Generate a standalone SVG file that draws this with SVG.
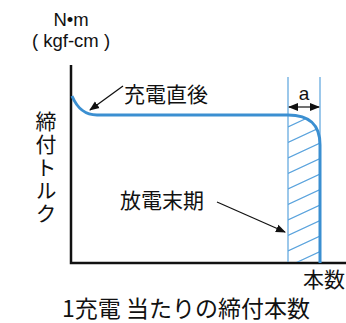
<svg xmlns="http://www.w3.org/2000/svg" width="346" height="323" viewBox="0 0 346 323">
<defs>
<style>
.t{font-family:"Liberation Sans","Noto Sans CJK JP",sans-serif;fill:#111;}
.j{font-family:"Noto Sans CJK JP","Liberation Sans",sans-serif;fill:#111;}
.ax{stroke:#111;stroke-width:2.5;fill:none;}
.cv{stroke:#3b8fd1;stroke-width:3;fill:none;}
.bl{stroke:#5aa3dd;stroke-width:1.2;fill:none;}
.ld{stroke:#111;stroke-width:1.2;fill:none;}
</style>
<marker id="ah" viewBox="0 0 10 10" refX="9" refY="5" markerWidth="10" markerHeight="10" markerUnits="userSpaceOnUse" orient="auto-start-reverse">
<path d="M0,1 L10,5 L0,9 Z" fill="#111"/>
</marker>
<clipPath id="hc">
<path d="M288,115 C310,115 320,125 320,145 L320,262 L288,262 Z"/>
</clipPath>
</defs>
<g id="axes">
<path class="ax" d="M71,65 L71,263 L346,263"/>
</g>
<g id="units">
<text class="t" x="71" y="26" font-size="18.5" text-anchor="middle">N•m</text>
<text class="t" x="71" y="47" font-size="18.5" text-anchor="middle">( kgf-cm )</text>
</g>
<g id="ylabel">
<text class="j" x="46" y="111" font-size="21" writing-mode="vertical-rl" letter-spacing="2">締付トルク</text>
</g>
<g id="hatch">
<line class="bl" x1="288" y1="77" x2="288" y2="262"/>
<line class="bl" x1="320" y1="77" x2="320" y2="262"/>
<g clip-path="url(#hc)">
<path class="bl" d="M288,127 l32,-15 M288,142.5 l32,-15 M288,158 l32,-15 M288,173.5 l32,-15 M288,189 l32,-15 M288,204.5 l32,-15 M288,220 l32,-15 M288,235.5 l32,-15 M288,251 l32,-15 M288,266.5 l32,-15 M288,282 l32,-15"/>
</g>
</g>
<g id="curve">
<path class="cv" d="M72,96 C78,110 86,115 97,115 L288,115 C310,115 320,125 320,145 L320,263"/>
</g>
<g id="a-dim">
<line class="ld" x1="289" y1="107" x2="319" y2="107" marker-start="url(#ah)" marker-end="url(#ah)"/>
<text class="t" x="304" y="100" font-size="19" text-anchor="middle">a</text>
</g>
<g id="label-start">
<text class="j" x="124" y="102" font-size="21">充電直後</text>
</g>
<g id="label-end">
<text class="j" x="120" y="208" font-size="21">放電末期</text>
</g>
<g id="xlabel">
<text class="j" x="303" y="287" font-size="21">本数</text>
<text class="j" x="62" y="317" font-size="23">1充電 当たりの締付本数</text>
</g>
<g id="connectors">
<line class="ld" x1="123" y1="86" x2="90" y2="110" marker-end="url(#ah)"/>
<line class="ld" x1="217" y1="202" x2="285" y2="232" marker-end="url(#ah)"/>
</g>
</svg>
